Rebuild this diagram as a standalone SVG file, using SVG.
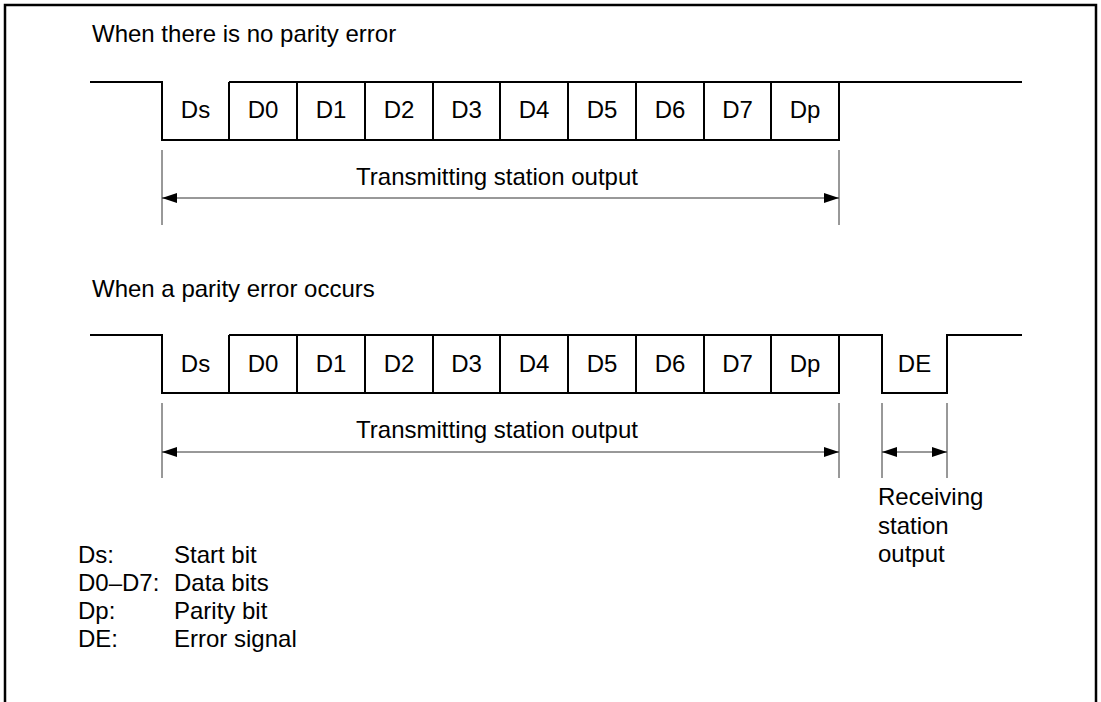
<svg xmlns="http://www.w3.org/2000/svg" width="1101" height="702" viewBox="0 0 1101 702">
<defs>
<style>
text{font-family:"Liberation Sans",Arial,sans-serif;font-size:24px;fill:#000}
.c{text-anchor:middle}
.w{fill:none;stroke:#000;stroke-width:2}
.e{fill:none;stroke:#333;stroke-width:1}
.a{fill:none;stroke:#333;stroke-width:1}
</style>
<marker id="ah" viewBox="0 0 15 10" refX="15" refY="5" markerWidth="15" markerHeight="10" markerUnits="userSpaceOnUse" orient="auto-start-reverse">
<path d="M0,0 L15,5 L0,10 Z" fill="#000"/>
</marker>
</defs>
<rect x="0" y="0" width="1101" height="702" fill="#fff"/>
<path d="M5,710 V5 H1096 V710" fill="none" stroke="#000" stroke-width="2.5"/>

<g id="title1"><text x="92" y="42">When there is no parity error</text></g>
<g id="wave1">
<path class="w" d="M90,82 H162 V140 H839 V82 H229 M839,82 H1022"/>
<path class="w" d="M229,82 V140 M297,82 V140 M365,82 V140 M433,82 V140 M500,82 V140 M568,82 V140 M636,82 V140 M704,82 V140 M771,82 V140"/>
<g class="c">
<text x="195.5" y="118">Ds</text><text x="263" y="118">D0</text><text x="331" y="118">D1</text><text x="399" y="118">D2</text><text x="466.5" y="118">D3</text><text x="534" y="118">D4</text><text x="602" y="118">D5</text><text x="670" y="118">D6</text><text x="737.5" y="118">D7</text><text x="805" y="118">Dp</text>
</g>
</g>
<g id="connectors">
<path class="e" d="M162,150 V225 M839,150 V225"/>
<line class="a" x1="162" y1="198" x2="839" y2="198" marker-start="url(#ah)" marker-end="url(#ah)"/>
<path class="e" d="M162,403 V478 M839,403 V478 M882,403 V478 M947,403 V478"/>
<line class="a" x1="162" y1="452" x2="839" y2="452" marker-start="url(#ah)" marker-end="url(#ah)"/>
<line class="a" x1="882" y1="452" x2="947" y2="452" marker-start="url(#ah)" marker-end="url(#ah)"/>
</g>
<g id="label1"><text class="c" x="497" y="185">Transmitting station output</text></g>

<g id="title2"><text x="92" y="297">When a parity error occurs</text></g>
<g id="wave2">
<path class="w" d="M90,335 H162 V393 H839 V335 H229 M839,335 H882 V393 H947 V335 H1022"/>
<path class="w" d="M229,335 V393 M297,335 V393 M365,335 V393 M433,335 V393 M500,335 V393 M568,335 V393 M636,335 V393 M704,335 V393 M771,335 V393"/>
<g class="c">
<text x="195.5" y="372">Ds</text><text x="263" y="372">D0</text><text x="331" y="372">D1</text><text x="399" y="372">D2</text><text x="466.5" y="372">D3</text><text x="534" y="372">D4</text><text x="602" y="372">D5</text><text x="670" y="372">D6</text><text x="737.5" y="372">D7</text><text x="805" y="372">Dp</text>
<text x="914.5" y="372">DE</text>
</g>
</g>
<g id="label2"><text class="c" x="497" y="438">Transmitting station output</text></g>
<g id="label3">
<text x="878" y="505">Receiving</text>
<text x="878" y="533.5">station</text>
<text x="878" y="562">output</text>
</g>
<g id="legend">
<text x="78" y="563">Ds:</text><text x="174" y="563">Start bit</text>
<text x="78" y="591">D0–D7:</text><text x="174" y="591">Data bits</text>
<text x="78" y="619">Dp:</text><text x="174" y="619">Parity bit</text>
<text x="78" y="647">DE:</text><text x="174" y="647">Error signal</text>
</g>
</svg>
